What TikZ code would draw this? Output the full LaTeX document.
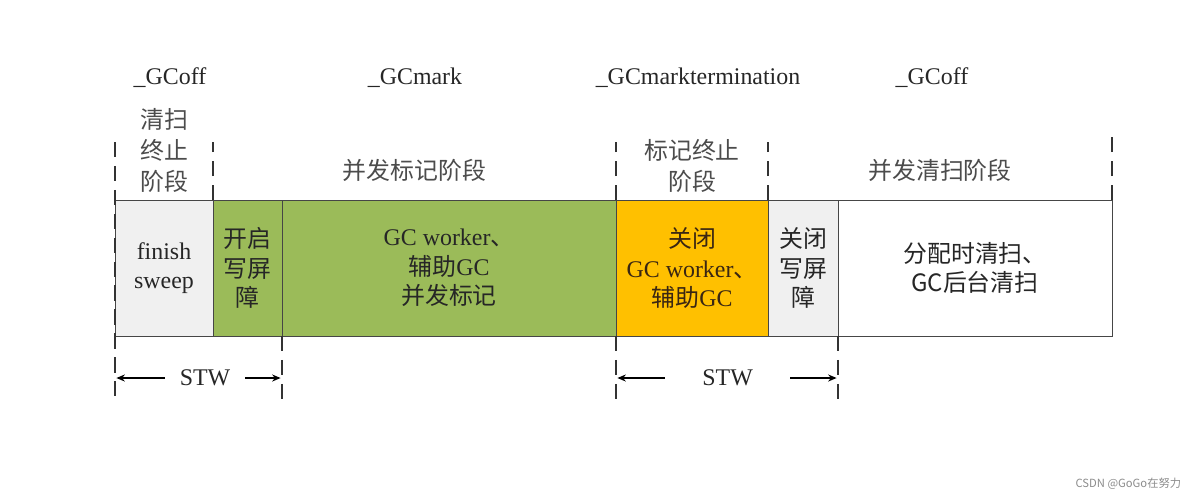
\documentclass[tikz,border=0pt]{standalone}
\usepackage{fontspec}
\setmainfont{Liberation Serif}
\newfontfamily\cjk{Noto Sans CJK SC}
\definecolor{gcgray}{RGB}{240,240,240}
\definecolor{gcgreen}{RGB}{155,187,89}
\definecolor{gcorange}{RGB}{255,192,0}
\definecolor{gcline}{RGB}{70,70,70}
\usetikzlibrary{arrows.meta,positioning,calc}
\tikzset{
  seg/.style={rectangle,draw=gcline,line width=0.7pt,fill=#1,
    minimum height=3.4cm,inner sep=0pt,outer sep=0pt,align=center,
    font=\fontsize{17}{21}\selectfont,text=black!85},
  guide/.style={draw=black!80,line width=1.3pt,dash pattern=on 11pt off 6pt},
  phase/.style={align=center,font=\fontsize{17}{22}\selectfont,text=black!70},
  stage/.style={font=\fontsize{17}{21}\selectfont,text=black!85},
  stwarr/.style={-{Stealth[length=6pt,width=5pt]},line width=1pt,shorten >=1pt},
}

\begin{document}
\begin{tikzpicture}[node distance=0pt]
  \useasboundingbox (0,0) rectangle (30,-12.4);

  % band of phases
  \node[seg=gcgray,minimum width=2.45cm,anchor=north west] (sweep) at (2.875,-5)
    {finish\\sweep};
  \node[seg=gcgreen,minimum width=1.725cm,right=of sweep] (wbon)
    {{\cjk 开启}\\{\cjk 写屏}\\{\cjk 障}};
  \node[seg=gcgreen,minimum width=8.35cm,right=of wbon] (cmark)
    {GC worker{\cjk 、}\\{\cjk 辅助}GC\\{\cjk 并发标记}};
  \node[seg=gcorange,minimum width=3.8cm,right=of cmark,text=black!70!brown] (term)
    {{\cjk 关闭}\\GC worker{\cjk 、}\\{\cjk 辅助}GC};
  \node[seg=gcgray,minimum width=1.75cm,right=of term] (wboff)
    {{\cjk 关闭}\\{\cjk 写屏}\\{\cjk 障}};
  \node[seg=white,minimum width=6.85cm,right=of wboff] (bgsweep)
    {{\cjk 分配时清扫、}\\{\cjk GC后台清扫}};

  % dashed guides
  \draw[guide] ([yshift=1.45cm]sweep.north west) -- ([yshift=-1.6cm]sweep.south west);
  \draw[guide] (sweep.north east) -- ++(0,1.45);
  \draw[guide] (cmark.north east) -- ++(0,1.45);
  \draw[guide] (term.north east) -- ++(0,1.45);
  \draw[guide] (bgsweep.north east) -- ++(0,1.6);
  \draw[guide] (wbon.south east) -- ++(0,-1.6);
  \draw[guide] (cmark.south east) -- ++(0,-1.6);
  \draw[guide] (wboff.south east) -- ++(0,-1.6);

  % phase names
  \node[phase,above=2pt of sweep] (ph1) {\cjk 清扫\\\cjk 终止\\\cjk 阶段};
  \node[phase] (ph2) at ($(wbon.north west)!0.5!(cmark.north east)+(0,0.75)$)
    {\cjk 并发标记阶段};
  \node[phase,above=2pt of term] (ph3) {\cjk 标记终止\\\cjk 阶段};
  \node[phase] (ph4) at ($(wboff.north west)!0.5!(bgsweep.north east)+(0,0.75)$)
    {\cjk 并发清扫阶段};

  % runtime states
  \node[stage] (off1) at (4.25,-1.95) {\_GCoff};
  \node[stage] (gcm) at (10.375,-1.95) {\_GCmark};
  \node[stage] (gct) at (17.45,-1.95) {\_GCmarktermination};
  \node[stage] (off2) at (23.3,-1.95) {\_GCoff};

  % stop the world
  \node[stage,minimum width=2cm,inner sep=0pt] (stw1) at (5.125,-9.45) {STW};
  \node[stage,minimum width=3.125cm,inner sep=0pt] (stw2) at (18.19,-9.45) {STW};
  \draw[stwarr] (stw1.west) -- (sweep.south west |- stw1);
  \draw[stwarr] (stw1.east) -- (wbon.south east |- stw1);
  \draw[stwarr] (stw2.west) -- (term.south west |- stw2);
  \draw[stwarr] (stw2.east) -- (wboff.south east |- stw2);

  \node[font=\cjk\fontsize{8}{8}\selectfont,text=black!45,anchor=east] (wmark)
    at (29.65,-12.1) {CSDN @GoGo在努力};
\end{tikzpicture}
\end{document}
